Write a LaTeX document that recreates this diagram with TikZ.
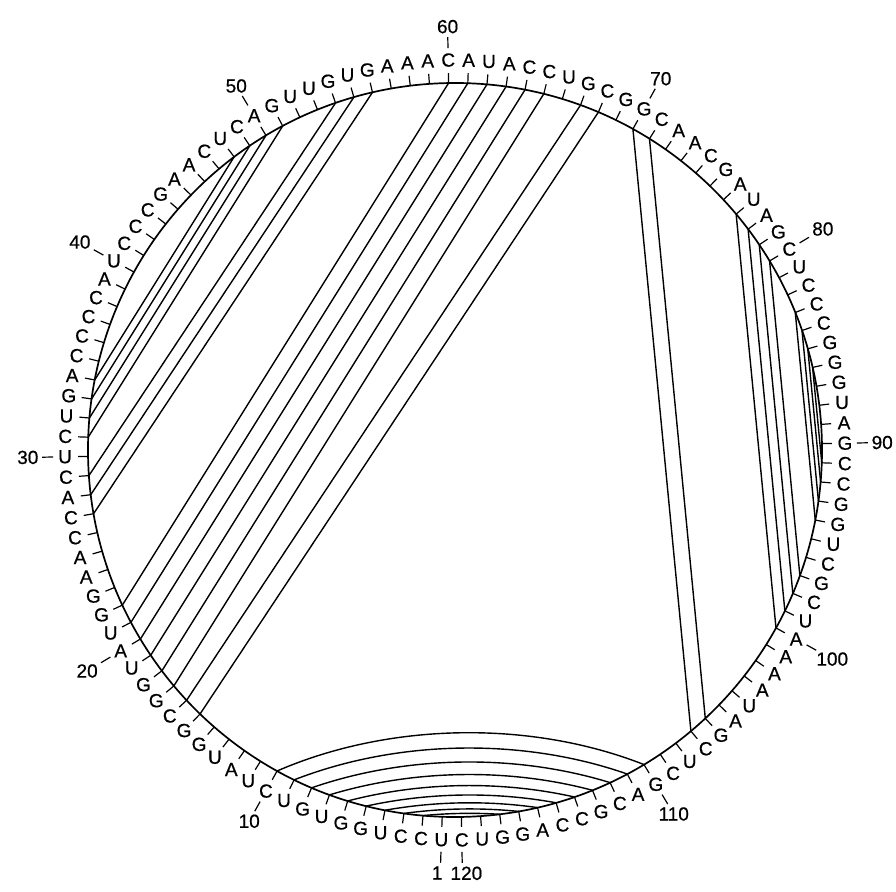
\documentclass[tikz,border=0pt]{standalone}
\usepackage{fontspec}
\setmainfont{Liberation Sans}
\newfontfamily\seqfont[FakeBold=0.6]{Liberation Sans}
\begin{document}
\begin{tikzpicture}[x=1pt,y=1pt,
  ring/.style={line width=1.7pt},
  chord/.style={line width=1.4pt},
  tickmark/.style={line width=1.2pt},
  base/.style={font=\seqfont\fontsize{19}{19}\selectfont, inner sep=0pt},
  numlab/.style={font=\seqfont\fontsize{19}{19}\selectfont, inner sep=0.5pt}]
\useasboundingbox (-455,-441) rectangle (441,450);
\def\R{367}
\draw[ring] (0,0) circle (\R);
% positions, ticks and bases
\foreach \k/\b in {1/U,2/C,3/C,4/U,5/G,6/G,7/U,8/G,9/U,10/C,
  11/U,12/A,13/U,14/G,15/G,16/C,17/G,18/G,19/U,20/A,
  21/U,22/G,23/G,24/A,25/A,26/C,27/C,28/A,29/C,30/U,
  31/C,32/U,33/G,34/A,35/C,36/C,37/C,38/C,39/A,40/U,
  41/C,42/C,43/C,44/G,45/A,46/A,47/C,48/U,49/C,50/A,
  51/G,52/U,53/U,54/G,55/U,56/G,57/A,58/A,59/A,60/C,
  61/A,62/U,63/A,64/C,65/C,66/U,67/G,68/C,69/G,70/G,
  71/C,72/A,73/A,74/C,75/G,76/A,77/U,78/A,79/G,80/C,
  81/U,82/C,83/C,84/C,85/G,86/G,87/G,88/U,89/A,90/G,
  91/C,92/C,93/G,94/G,95/U,96/C,97/G,98/C,99/U,100/A,
  101/A,102/A,103/A,104/U,105/A,106/G,107/C,108/U,109/C,110/G,
  111/A,112/C,113/G,114/C,115/C,116/A,117/G,118/G,119/U,120/C}{
  \pgfmathsetmacro{\t}{-89-3*\k}
  \coordinate (p\k) at (\t:\R);
  \draw[tickmark] (\t:\R) -- (\t:377);
  \node[base] (b\k) at (\t:390) {\b};
}
% position labels
\foreach \k/\lab/\dx in {1/1/-3,10/10/0,20/20/0,30/30/0,40/40/0,50/50/0,60/60/0,70/70/0,80/80/0,90/90/0,100/100/0,110/110/0,120/120/4}{
  \pgfmathsetmacro{\t}{-89-3*\k}
  \pgfmathsetmacro{\a}{\t+180}
  \draw[tickmark] (\t:402) -- (\t:413);
  \node[numlab, anchor=\a, xshift=\dx] (n\k) at (\t:416) {\lab};
}
% helix I, drawn as arcs
\foreach \k in {2,...,10}{
  \pgfmathtruncatemacro{\j}{120-\k}
  \pgfmathsetmacro{\bb}{asin(367*sin(3*\k)/480)}
  \draw[chord] (p\k) to[bend left=\bb, looseness=0.85] (p\j);
}
% straight chords
\foreach \i/\j in {15/68,16/67,17/65,18/64,19/63,20/62,21/61,22/60,
  27/56,28/55,29/54,31/51,32/50,33/49,34/48,
  70/107,71/106,
  77/100,78/99,79/98,80/97,83/94,84/93,85/92,86/91}{
  \draw[chord] (p\i) -- (p\j);
}
\end{tikzpicture}
\end{document}
